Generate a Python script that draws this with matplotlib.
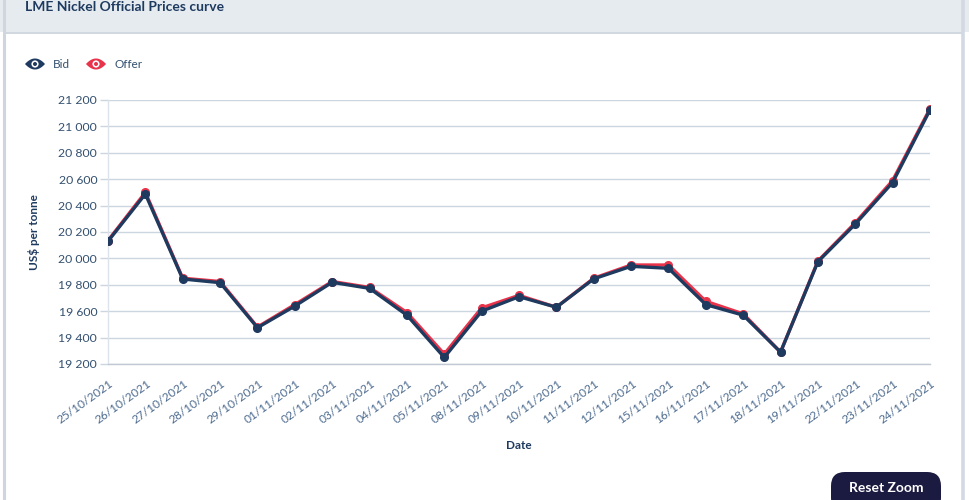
import matplotlib
matplotlib.use("Agg")
import matplotlib.pyplot as plt
import numpy as np
from matplotlib.patches import Circle, FancyBboxPatch, Rectangle, Polygon
from matplotlib.ticker import FuncFormatter
import matplotlib.transforms as mtransforms

# ---------------- data ----------------
dates = ["25/10/2021", "26/10/2021", "27/10/2021", "28/10/2021", "29/10/2021",
         "01/11/2021", "02/11/2021", "03/11/2021", "04/11/2021", "05/11/2021",
         "08/11/2021", "09/11/2021", "10/11/2021", "11/11/2021", "12/11/2021",
         "15/11/2021", "16/11/2021", "17/11/2021", "18/11/2021", "19/11/2021",
         "22/11/2021", "23/11/2021", "24/11/2021"]
bid = [20130, 20488, 19844, 19816, 19475, 19639, 19819, 19773, 19570, 19250,
       19600, 19710, 19630, 19845, 19940, 19925, 19650, 19570, 19290, 19975,
       20260, 20575, 21125]
offer = [20135, 20500, 19850, 19825, 19480, 19650, 19825, 19780, 19590, 19275,
         19625, 19720, 19630, 19850, 19950, 19950, 19675, 19580, 19290, 19980,
         20270, 20590, 21135]
yticks = [19200, 19400, 19600, 19800, 20000, 20200, 20400, 20600, 20800, 21000, 21200]

title = "LME Nickel Official Prices curve"
series_names = ["Bid", "Offer"]

# ---------------- style ----------------
plt.rcParams['font.family'] = ['Lato', 'DejaVu Sans']
NAVY = "#1e3a5f"
RED = "#e8334a"
GRID = "#ccd6e0"
TXT = "#34506f"

W, H = 970, 500
fig = plt.figure(figsize=(W / 100, H / 100), dpi=100)
fig.patch.set_facecolor("white")

# overlay for card decorations (pixel coords)
ov = fig.add_axes([0, 0, 1, 1])
ov.set_xlim(0, W)
ov.set_ylim(H, 0)
ov.axis("off")
ov.set_zorder(0)
ov.add_patch(Rectangle((0, 0), W, 32, facecolor="#e6ebf0", edgecolor="none"))
ov.plot([4, 963], [32.5, 32.5], color="#c9d1da", lw=1.2)
ov.plot([4, 4], [0, 500], color="#d0d6de", lw=2.2)
ov.plot([963, 963], [0, 500], color="#d3d8e3", lw=2.6)
ov.text(25, 11, title, fontsize=10, fontweight="bold", color=NAVY,
        va="baseline", ha="left")


def eye(cx, cy, col):
    t = np.linspace(-1, 1, 40)
    half_w, half_h = 10, 5.5
    top = np.column_stack([cx + half_w * t, cy - half_h * (1 - t ** 2)])
    bot = np.column_stack([cx - half_w * t, cy + half_h * (1 - t ** 2)])
    ov.add_patch(Polygon(np.vstack([top, bot]), closed=True, facecolor=col,
                         edgecolor="none"))
    ov.add_patch(Circle((cx, cy), 3.6, facecolor="white", edgecolor="none"))
    ov.add_patch(Circle((cx, cy), 2.0, facecolor=col, edgecolor="none"))


eye(35, 64, NAVY)
ov.text(53, 64, series_names[0], fontsize=8.5, color=TXT, va="center", ha="left")
eye(96, 64, RED)
ov.text(115, 64, series_names[1], fontsize=8.5, color=TXT, va="center", ha="left")

# Reset Zoom button
ov.add_patch(FancyBboxPatch((831, 472), 110, 40,
                            boxstyle="round,pad=0,rounding_size=14",
                            facecolor="#1b1a40", edgecolor="none"))
ov.text(886, 488, "Reset Zoom", fontsize=10, fontweight="bold", color="white",
        ha="center", va="center")

# ---------------- main axes ----------------
left, right, top, bottom = 108, 930, 100, 364
ax = fig.add_axes([left / W, 1 - bottom / H, (right - left) / W, (bottom - top) / H])
ax.set_zorder(1)
ax.patch.set_alpha(0)

x = list(range(len(dates)))
ax.plot(x, offer, color=RED, lw=2.4, marker="o", ms=5.5, zorder=3,
        solid_joinstyle="round")
ax.plot(x, bid, color=NAVY, lw=2.4, marker="o", ms=5.5, zorder=4,
        solid_joinstyle="round")

ax.set_xlim(0, len(dates) - 1)
ax.set_ylim(yticks[0], yticks[-1])
ax.set_yticks(yticks)
ax.yaxis.set_major_formatter(FuncFormatter(lambda v, p: f"{v:,.0f}".replace(",", " ")))
ax.grid(axis="y", color=GRID, lw=1)
ax.set_axisbelow(True)

for s in ["top", "right"]:
    ax.spines[s].set_visible(False)
ax.spines["left"].set_color("#dde3ea")
ax.spines["left"].set_linewidth(1)
ax.spines["bottom"].set_color("#c0c9d4")
ax.spines["bottom"].set_linewidth(1)

ax.tick_params(axis="y", length=8 * 0.72, width=1, color=GRID, pad=2,
               labelsize=8.8, labelcolor=TXT)
ax.set_xticks(x)
ax.set_xticklabels(dates)
ax.tick_params(axis="x", length=0, pad=13, labelsize=8.6, labelcolor="#4d6b8f")
offset = mtransforms.ScaledTranslation(4 / 100, 0, fig.dpi_scale_trans)
for lab in ax.get_xticklabels():
    lab.set_rotation(36)
    lab.set_ha("right")
    lab.set_va("center")
    lab.set_rotation_mode("anchor")
    lab.set_transform(lab.get_transform() + offset)

ax.set_ylabel("US$ per tonne", fontsize=8.5, fontweight="bold", color=NAVY,
              labelpad=10)
ax.yaxis.set_label_coords((40 - left) / (right - left), 0.5)
ax.set_xlabel("Date", fontsize=8.5, fontweight="bold", color=NAVY)
ax.xaxis.set_label_coords(0.5, -(440 - bottom) / (bottom - top))

fig.savefig("out.png", dpi=100)
